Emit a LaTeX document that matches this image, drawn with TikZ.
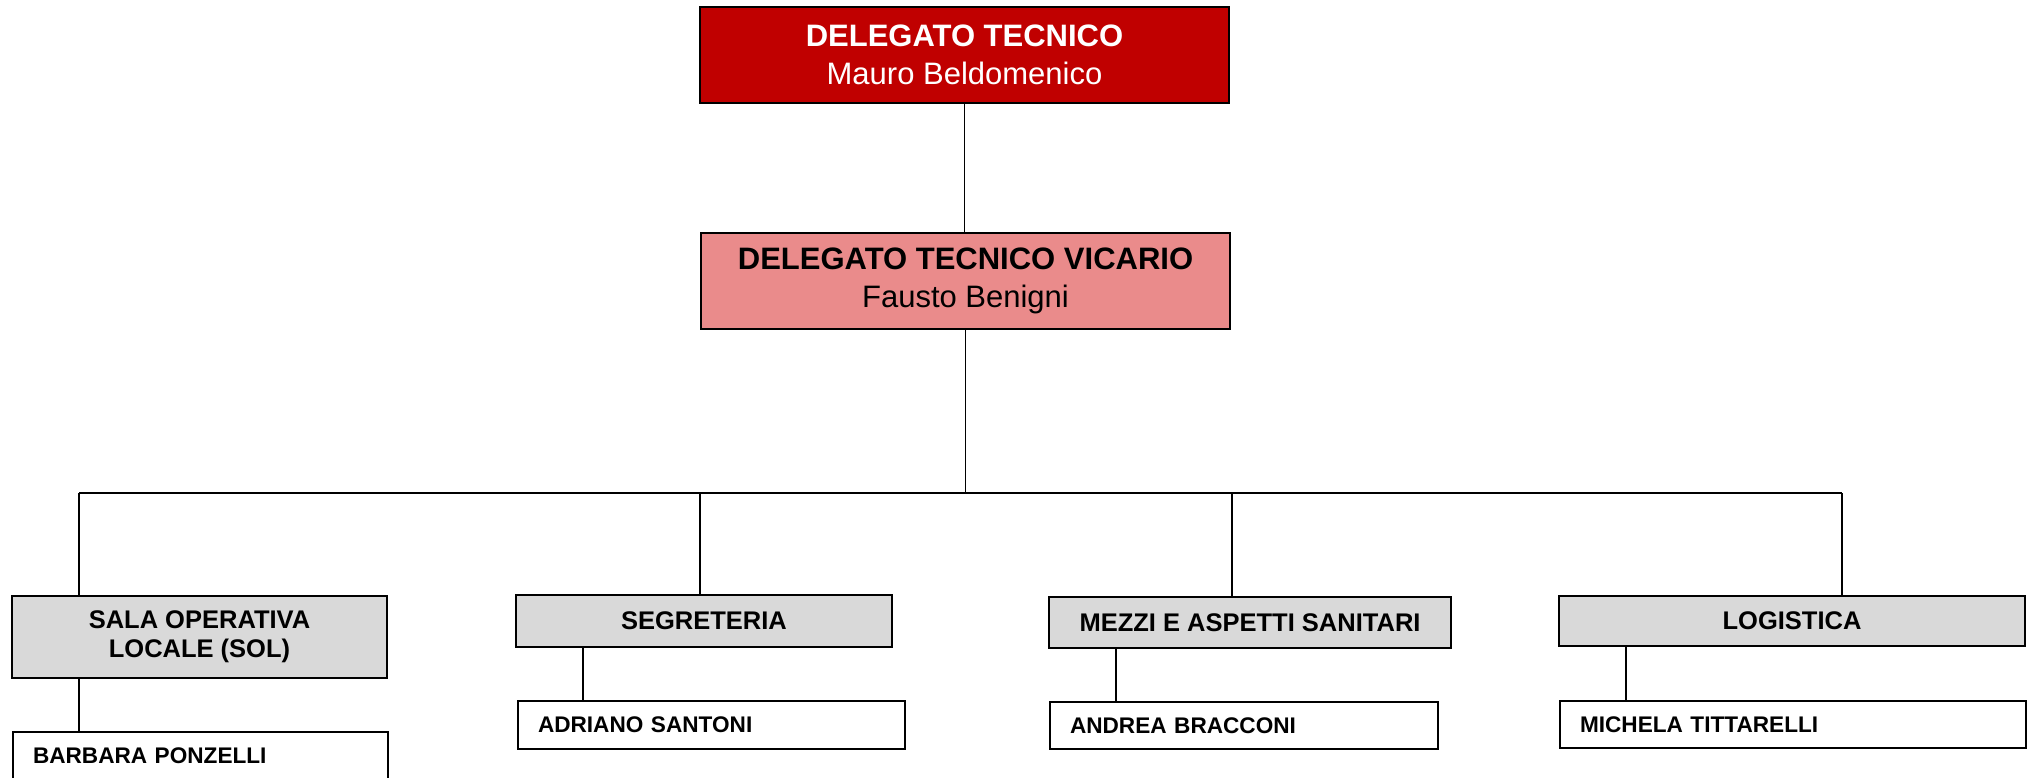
\documentclass[tikz,border=0pt]{standalone}
\usepackage{fontspec}
\setmainfont{Liberation Sans}
\usepackage{tikz}
\usetikzlibrary{calc}
\definecolor{rosso}{HTML}{C00000}
\definecolor{rosa}{HTML}{EA8B8B}
\definecolor{grigio}{HTML}{D9D9D9}
\tikzset{
  capo/.style={draw=black, line width=1pt, align=center, inner sep=0pt,
    minimum width=264.5pt, minimum height=48pt,
    font=\fontsize{15.5}{19}\selectfont},
  settore/.style={draw=black, line width=1pt, fill=grigio, align=center, inner sep=0pt,
    font=\fontsize{12.75}{14.5}\selectfont\bfseries},
  persona/.style={draw=black, line width=1pt, anchor=west, align=left,
    inner xsep=10pt, inner ysep=0pt, text width=#1,
    font=\fontsize{11.3}{13}\selectfont\bfseries},
  linea/.style={line width=0.6pt}
}
\begin{document}
\begin{tikzpicture}[x=0.5pt,y=-0.5pt]
                    \useasboundingbox (0,0) rectangle (2033,777);
                    \node[capo, fill=rosso, text=white] (dt) at (964.5,55) {\textbf{DELEGATO TECNICO}\\Mauro Beldomenico};
                    \node[capo, fill=rosa] (dtv) at (965.5,280.5) {\textbf{DELEGATO TECNICO VICARIO}\\Fausto Benigni};

                    \node[settore, minimum width=187.5pt, minimum height=41pt] (sol) at (199.5,637) {SALA OPERATIVA\\LOCALE (SOL)};
                    \node[settore, minimum width=188pt, minimum height=26pt] (seg) at (704,621) {SEGRETERIA};
                    \node[settore, minimum width=201pt, minimum height=25.5pt] (mez) at (1250,622.5) {MEZZI E ASPETTI SANITARI};
                    \node[settore, minimum width=233pt, minimum height=25pt] (log) at (1792,621) {LOGISTICA};

                    \node[persona=167.5pt, minimum height=24pt] (bar) at (12,756) {BARBARA PONZELLI};
                    \node[persona=173.5pt, minimum height=24pt] (adr) at (517,725) {ADRIANO SANTONI};
                    \node[persona=174pt, minimum height=23.5pt] (and) at (1049,725.5) {ANDREA BRACCONI};
                    \node[persona=213pt, minimum height=23.5pt] (mic) at (1559,724.5) {MICHELA TITTARELLI};

                    \coordinate (b1) at (79,493);
                    \coordinate (b2) at (700,493);
                    \coordinate (b3) at (1232,493);
                    \coordinate (b4) at (1842,493);
                    \coordinate (s1) at (79,700);
                    \coordinate (s2) at (583,700);
                    \coordinate (s3) at (1116,700);
                    \coordinate (s4) at (1626,700);

                    \draw[linea] (dt.south) -- (dt.south |- dtv.north);
                    \draw[linea] (dtv.south) -- (dtv.south |- b1);
                    \draw[linea] (b1) -- (b4);
                    \draw[linea] (b1) -- (b1 |- sol.north);
                    \draw[linea] (b2) -- (b2 |- seg.north);
                    \draw[linea] (b3) -- (b3 |- mez.north);
                    \draw[linea] (b4) -- (b4 |- log.north);
                    \draw[linea] (sol.south -| s1) -- (bar.north -| s1);
                    \draw[linea] (seg.south -| s2) -- (adr.north -| s2);
                    \draw[linea] (mez.south -| s3) -- (and.north -| s3);
                    \draw[linea] (log.south -| s4) -- (mic.north -| s4);
                \end{tikzpicture}
\end{document}
